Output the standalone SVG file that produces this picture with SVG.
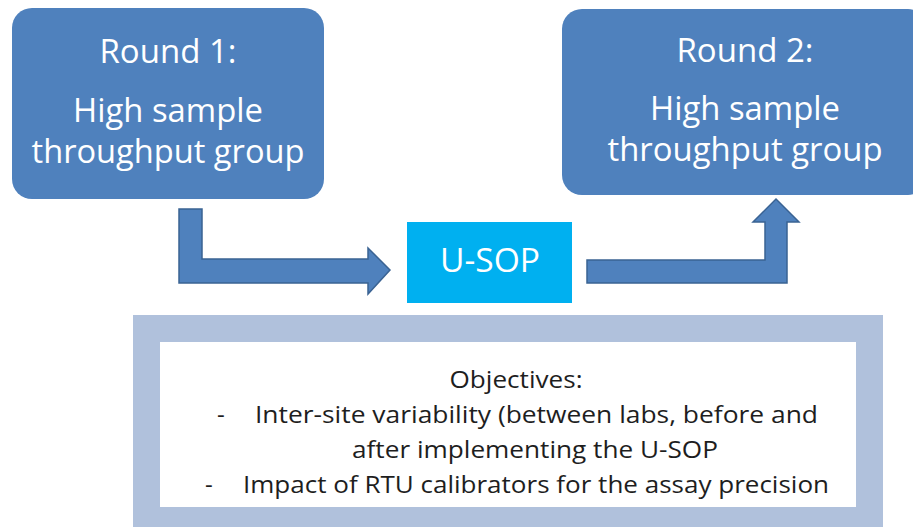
<svg xmlns="http://www.w3.org/2000/svg" width="913" height="527" viewBox="0 0 913 527">
  <style>
    .round { fill: #4F81BD; }
    .head { font-family: "Open Sans", "Liberation Sans", sans-serif; font-size: 33px; fill: #FFFFFF; text-anchor: middle; }
    .arrow { fill: #4F81BD; stroke: #3A6393; stroke-width: 1.5; stroke-linejoin: miter; }
    .obj { font-family: "Open Sans", "Liberation Sans", sans-serif; font-size: 24px; fill: #1E1E1E; }
  </style>
  <rect width="913" height="527" fill="#FFFFFF"/>

  <!-- Round 1 box -->
  <g id="round1">
    <rect class="round" x="12" y="8" width="312" height="191" rx="20"/>
    <text class="head" x="168" y="63" textLength="137" lengthAdjust="spacingAndGlyphs">Round 1:</text>
    <text class="head" x="168" y="122" textLength="190" lengthAdjust="spacingAndGlyphs">High sample</text>
    <text class="head" x="168" y="163" textLength="273" lengthAdjust="spacingAndGlyphs">throughput group</text>
  </g>

  <!-- Round 2 box (runs past the right edge) -->
  <g id="round2">
    <rect class="round" x="562" y="9" width="366" height="186" rx="20"/>
    <text class="head" x="745" y="62" textLength="137" lengthAdjust="spacingAndGlyphs">Round 2:</text>
    <text class="head" x="745" y="120" textLength="190" lengthAdjust="spacingAndGlyphs">High sample</text>
    <text class="head" x="745" y="161" textLength="275" lengthAdjust="spacingAndGlyphs">throughput group</text>
  </g>

  <!-- U-SOP box -->
  <g id="usop">
    <rect x="407" y="222" width="165" height="81" fill="#00B0F0"/>
    <text class="head" x="490" y="272" textLength="100" lengthAdjust="spacingAndGlyphs">U-SOP</text>
  </g>

  <!-- Bent block arrows -->
  <g id="connectors">
    <path class="arrow" d="M179,209 L202,209 L202,259 L368,259 L368,248 L390,270 L368,294 L368,283 L179,283 Z"/>
    <path class="arrow" d="M587,260 L765,260 L765,222 L753,222 L776,199 L799,222 L787,222 L787,283 L587,283 Z"/>
  </g>

  <!-- Objectives panel -->
  <g id="objectives">
    <rect x="133" y="315" width="750" height="220" fill="#B0C1DC"/>
    <rect x="160" y="342" width="696" height="165" fill="#FFFFFF"/>
    <text class="obj" x="516" y="388" text-anchor="middle" textLength="133" lengthAdjust="spacingAndGlyphs">Objectives:</text>
    <text class="obj" x="217" y="423">-</text>
    <text class="obj" x="255" y="423" textLength="563" lengthAdjust="spacingAndGlyphs">Inter-site variability (between labs, before and</text>
    <text class="obj" x="352" y="458" textLength="366" lengthAdjust="spacingAndGlyphs">after implementing the U-SOP</text>
    <text class="obj" x="205" y="493">-</text>
    <text class="obj" x="243" y="493" textLength="586" lengthAdjust="spacingAndGlyphs">Impact of RTU calibrators for the assay precision</text>
  </g>
</svg>
